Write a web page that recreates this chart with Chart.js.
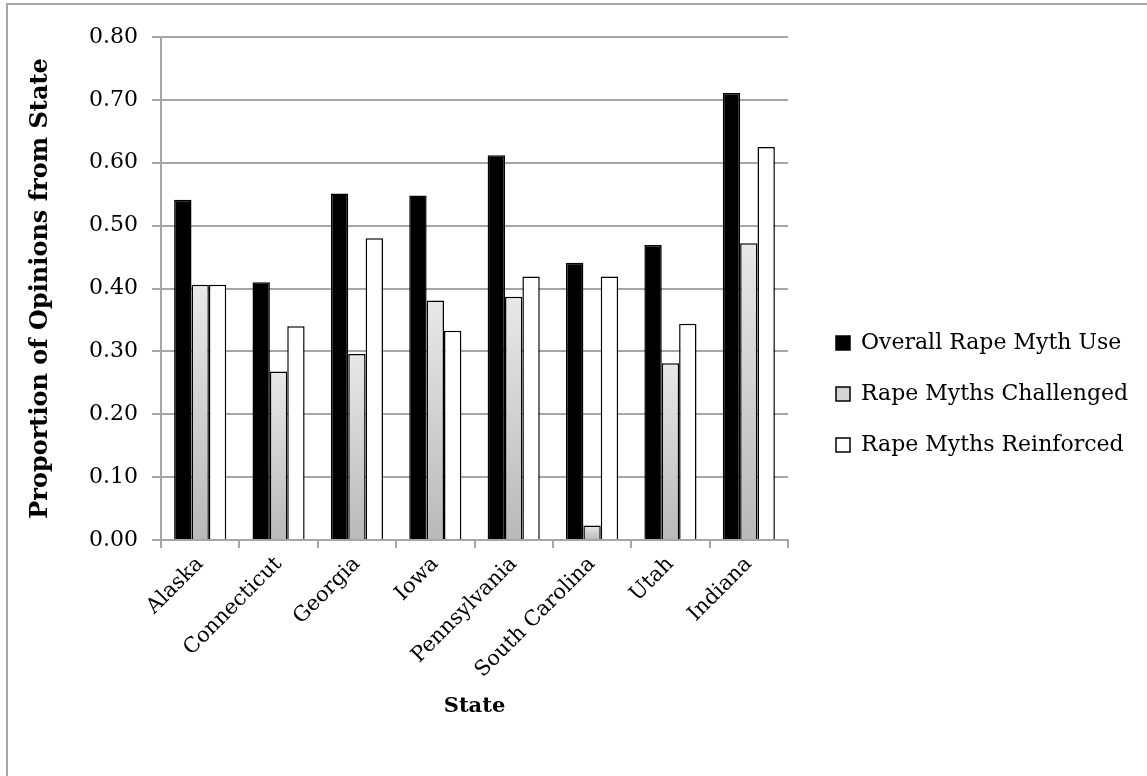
<!DOCTYPE html>
<html>
<head>
<meta charset="utf-8">
<script src="https://cdn.jsdelivr.net/npm/chart.js@4.4.1/dist/chart.umd.min.js"></script>
<style>
  html, body { margin: 0; padding: 0; background: #fff; overflow: hidden; }
  #wrap { position: relative; width: 1147px; height: 776px; }
  #frame { position: absolute; left: 6px; top: 3px; width: 2000px; height: 2000px;
           border-left: 2px solid #a6a6a6; border-top: 2px solid #a6a6a6; pointer-events: none; }
  canvas { position: absolute; left: 0; top: 0; }
</style>
</head>
<body>
<div id="wrap">
  <canvas id="c" width="1147" height="776"></canvas>
  <div id="frame"></div>
</div>
<script>
const states = ["Alaska", "Connecticut", "Georgia", "Iowa", "Pennsylvania", "South Carolina", "Utah", "Indiana"];
const overallUse = [0.541, 0.410, 0.551, 0.548, 0.612, 0.441, 0.469, 0.711];
const challenged = [0.406, 0.268, 0.296, 0.381, 0.387, 0.023, 0.281, 0.472];
const reinforced = [0.406, 0.340, 0.480, 0.333, 0.419, 0.419, 0.344, 0.625];
const seriesNames = ["Overall Rape Myth Use", "Rape Myths Challenged", "Rape Myths Reinforced"];
const yTicks = [0, 0.1, 0.2, 0.3, 0.4, 0.5, 0.6, 0.7, 0.8];

const FONT = "'DejaVu Serif', serif";
const PLOT_RIGHT = 788;
const LEGEND_BOX_LEFT = 836;
const LEGEND_SHIFT_Y = 6;

function grayGradient(ctx) {
  const chart = ctx.chart;
  if (!chart.chartArea || ctx.type !== 'data') return '#d0d0d0';
  const y = chart.scales.y;
  const top = y.getPixelForValue(ctx.parsed ? ctx.parsed.y : ctx.raw);
  const bottom = y.getPixelForValue(0);
  if (!isFinite(top) || !isFinite(bottom) || Math.abs(bottom - top) < 1) return '#d0d0d0';
  const g = chart.ctx.createLinearGradient(0, top, 0, bottom);
  g.addColorStop(0, '#e8e8e8');
  g.addColorStop(1, '#b9b9b9');
  return g;
}

const legendFills = ['#000000', '#d4d4d4', '#ffffff'];

// place the legend like the reference
const placePlugin = {
  id: 'place',
  afterLayout(chart) {
    const lg = chart.legend;
    if (!lg) return;
    const pad = lg.options.labels.padding;
    const dx = LEGEND_BOX_LEFT - (lg.left + pad);
    lg.left += dx;
    lg.right = chart.width;
    lg.width = lg.right - lg.left;
    lg.top = LEGEND_SHIFT_Y;
    lg.bottom = chart.height + LEGEND_SHIFT_Y;
  }
};

const chart = new Chart(document.getElementById('c'), {
  type: 'bar',
  data: {
    labels: states,
    datasets: [
      { label: seriesNames[0], data: overallUse, backgroundColor: '#000000', borderColor: '#000000', borderWidth: 1.5 },
      { label: seriesNames[1], data: challenged, backgroundColor: grayGradient, borderColor: '#000000', borderWidth: 1.5 },
      { label: seriesNames[2], data: reinforced, backgroundColor: '#ffffff', borderColor: '#000000', borderWidth: 1.5 }
    ]
  },
  plugins: [placePlugin],
  options: {
    responsive: false,
    animation: false,
    devicePixelRatio: 1,
    layout: { padding: { left: 22, top: 37, right: 10, bottom: 53 } },
    datasets: { bar: { categoryPercentage: 0.665, barPercentage: 1.0 } },
    plugins: {
      tooltip: { enabled: false },
      legend: {
        position: 'right',
        maxWidth: 420,
        labels: {
          font: { family: FONT, size: 22 },
          color: '#000',
          boxWidth: 14,
          boxHeight: 14,
          padding: 29,
          generateLabels: (chart) => chart.data.datasets.map((ds, i) => ({
            text: ds.label,
            fillStyle: legendFills[i],
            strokeStyle: '#000',
            lineWidth: 1.5,
            hidden: false,
            datasetIndex: i,
            fontColor: '#000'
          }))
        }
      }
    },
    scales: {
      x: {
        grid: { display: true, drawOnChartArea: false, drawTicks: true, tickLength: 8, color: '#a6a6a6', lineWidth: 2, offset: true },
        border: { display: true, color: '#a6a6a6', width: 2 },
        ticks: { font: { family: FONT, size: 21 }, color: '#000', maxRotation: 45, minRotation: 45, padding: 4 },
        title: { display: true, text: 'State', font: { family: FONT, size: 21, weight: 'bold' }, color: '#000', padding: { top: 4, bottom: 4 } },
        afterFit: (s) => { s.height = 776 - 540 - 53; }
      },
      y: {
        min: 0, max: 0.8,
        afterBuildTicks: (s) => { s.ticks = yTicks.map(v => ({ value: v })); },
        grid: { color: '#a6a6a6', lineWidth: 2, drawTicks: true, tickLength: 9 },
        border: { display: true, color: '#a6a6a6', width: 2 },
        ticks: { font: { family: FONT, size: 22 }, color: '#000', padding: 14, callback: (v) => Number(v).toFixed(2) },
        title: { display: true, text: 'Proportion of Opinions from State', font: { family: FONT, size: 24, weight: 'bold' }, color: '#000', padding: { top: 4, bottom: 4 } },
        afterFit: (s) => { s.width = 161 - 22; }
      }
    }
  }
});
// adjust right padding so the plot area ends where the reference's does
for (let k = 0; k < 3; k++) {
  const extra = chart.chartArea.right - PLOT_RIGHT;
  if (Math.abs(extra) <= 0.5) break;
  chart.options.layout.padding.right = Math.max(0, chart.options.layout.padding.right + extra);
  chart.update();
}
</script>
</body>
</html>
